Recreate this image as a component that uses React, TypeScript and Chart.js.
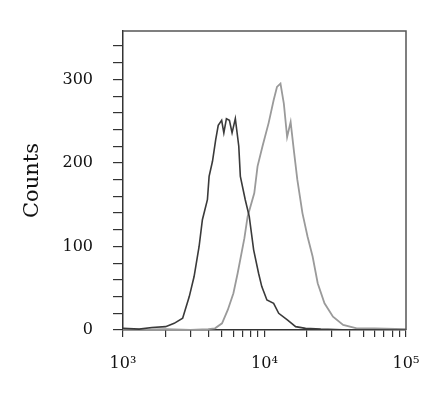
import React, { useEffect, useRef } from "react";
import { Chart, registerables } from "chart.js";

Chart.register(...registerables);

// Fluorescence intensity (x) and counts (y)
const blackX = [1000, 1300, 1600, 2000, 2300, 2640, 2940, 3180, 3450, 3640, 3950, 4060, 4290, 4520, 4710, 4980, 5160, 5380, 5650, 5900, 6220, 6580, 6750, 7310, 7800, 8380, 9080, 9570, 10400, 11600, 12600, 14500, 16600, 19500, 25000, 40000, 100000];
const blackY = [2, 1, 3, 4, 8, 14, 40, 64, 100, 132, 156, 184, 202, 228, 245, 251, 236, 253, 251, 236, 253, 220, 184, 156, 136, 96, 68, 52, 36, 32, 20, 12, 4, 2, 1, 0, 0];

const grayX = [1000, 2000, 3000, 4000, 4470, 5010, 5500, 6030, 6460, 7210, 7600, 8470, 8930, 9680, 10700, 11600, 12250, 12970, 13700, 14450, 15300, 16200, 17060, 18540, 20140, 21880, 23770, 26550, 30480, 35970, 44870, 60000, 100000];
const grayY = [0, 1, 0, 1, 2, 8, 24, 44, 68, 110, 136, 164, 196, 220, 248, 275, 291, 295, 271, 231, 249, 212, 180, 140, 112, 88, 56, 32, 16, 6, 2, 2, 1];

const xTickValues = [1000, 10000, 100000];
const xTickLabels = ["10³", "10⁴", "10⁵"];
const yTickValues = [0, 100, 200, 300];
const yTickLabels = ["0", "100", "200", "300"];
const yLabel = "Counts";

const framePlugin = {
  id: "frame",
  afterDraw(chart: any) {
    const { ctx, chartArea } = chart;
    ctx.save();
    ctx.strokeStyle = "#555";
    ctx.lineWidth = 1.5;
    ctx.beginPath();
    ctx.moveTo(chartArea.left, chartArea.top);
    ctx.lineTo(chartArea.right, chartArea.top);
    ctx.lineTo(chartArea.right, chartArea.bottom);
    ctx.stroke();
    ctx.restore();
  },
};

export default function App() {
  const ref = useRef<HTMLCanvasElement>(null);
  useEffect(() => {
    document.body.style.margin = "0";
    Chart.defaults.font.family = "'DejaVu Serif', serif";
    const minorX: number[] = [];
    for (let e = 3; e < 5; e++) {
      for (let m = 1; m < 10; m++) minorX.push(m * Math.pow(10, e));
    }
    minorX.push(100000);
    const minorY: number[] = [];
    for (let v = 0; v <= 340; v += 20) minorY.push(v);

    const chart = new Chart(ref.current!, {
      type: "line",
      data: {
        datasets: [
          {
            data: blackX.map((x, i) => ({ x, y: blackY[i] })),
            borderColor: "#3a3a3a",
            borderWidth: 1.6,
            pointRadius: 0,
            tension: 0,
          },
          {
            data: grayX.map((x, i) => ({ x, y: grayY[i] })),
            borderColor: "#9a9a9a",
            borderWidth: 1.8,
            pointRadius: 0,
            tension: 0,
          },
        ],
      },
      options: {
        animation: false,
        responsive: false,
        layout: { padding: { left: 0, top: 31, right: 39, bottom: 0 } },
        plugins: { legend: { display: false }, tooltip: { enabled: false } },
        scales: {
          x: {
            type: "logarithmic",
            min: 1000,
            max: 100000,
            afterBuildTicks: (s: any) => {
              s.ticks = minorX.map((v) => ({ value: v }));
            },
            afterFit: (s: any) => {
              s.height = 64;
            },
            grid: { display: true, drawOnChartArea: false, tickLength: 7, color: "#333", lineWidth: 1.2 },
            border: { display: true, color: "#333", width: 1.5 },
            ticks: {
              autoSkip: false,
              maxRotation: 0,
              padding: 17,
              color: "#111",
              font: { size: 16 },
              callback: (v: any) => {
                const i = xTickValues.indexOf(Number(v));
                return i >= 0 ? xTickLabels[i] : "";
              },
            },
          },
          y: {
            min: 0,
            max: 358,
            afterBuildTicks: (s: any) => {
              s.ticks = minorY.map((v) => ({ value: v }));
            },
            afterFit: (s: any) => {
              s.width = 123;
            },
            grid: { display: true, drawOnChartArea: false, tickLength: 10, color: "#333", lineWidth: 1.2 },
            border: { display: true, color: "#333", width: 1.5 },
            title: { display: true, text: yLabel, color: "#111", font: { size: 21 }, padding: { top: 20, bottom: 0 } },
            ticks: {
              autoSkip: false,
              padding: 20,
              color: "#111",
              font: { size: 16 },
              callback: (v: any) => {
                const i = yTickValues.indexOf(Number(v));
                return i >= 0 ? yTickLabels[i] : "";
              },
            },
          },
        },
      },
      plugins: [framePlugin],
    });
    return () => chart.destroy();
  }, []);
  return <canvas ref={ref} width={445} height={394} style={{ display: "block" }} />;
}
